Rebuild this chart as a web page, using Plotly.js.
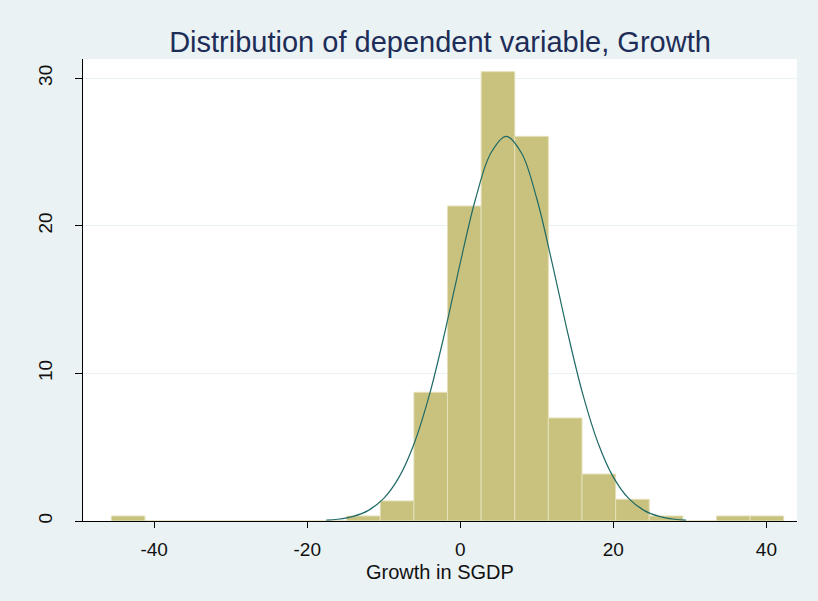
<!DOCTYPE html>
<html>
<head>
<meta charset="utf-8">
<script src="https://cdn.plot.ly/plotly-3.0.1.min.js"></script>
<style>html,body{margin:0;padding:0;background:#eaf2f3;}#chart{width:818px;height:601px;}</style>
</head>
<body>
<div id="chart"></div>
<script>
// Histogram bin edges (Growth in SGDP)
var binEdges = [-45.60, -41.21, -36.81, -32.42, -28.03, -23.63, -19.24, -14.85, -10.45, -6.06, -1.67, 2.73, 7.12, 11.51, 15.91, 20.30, 24.69, 29.09, 33.48, 37.87, 42.26];
// Percent of observations in each bin
var binPercent = [0.34, 0, 0, 0, 0, 0, 0, 0.34, 1.36, 8.72, 21.34, 30.44, 26.06, 6.98, 3.18, 1.47, 0.34, 0, 0.34, 0.34];
// Overlaid normal curve
var curveX = [-17.5, -16, -14, -12, -10, -8, -6, -4, -2, 0, 2, 4, 6, 8, 10, 12, 14, 16, 18, 20, 22, 24, 26, 28, 29.5];
var curveY = [0.06, 0.12, 0.31, 0.72, 1.53, 2.97, 5.29, 8.61, 12.83, 17.49, 21.83, 24.93, 26.06, 24.93, 21.83, 17.49, 12.83, 8.61, 5.29, 2.97, 1.53, 0.72, 0.31, 0.12, 0.06];
var xTicks = [-40, -20, 0, 20, 40];
var yTicks = [0, 10, 20, 30];

var centers = [], widths = [];
for (var i = 0; i < binPercent.length; i++) {
  centers.push((binEdges[i] + binEdges[i + 1]) / 2);
  widths.push(binEdges[i + 1] - binEdges[i]);
}

var bars = {
  type: 'bar', x: centers, y: binPercent, width: widths,
  marker: {color: '#c9c27f', line: {color: '#e4e0b8', width: 1}},
  hoverinfo: 'skip', showlegend: false
};
var curve = {
  type: 'scatter', mode: 'lines', x: curveX, y: curveY,
  line: {color: '#1f6a66', width: 1.2, shape: 'spline'},
  hoverinfo: 'skip', showlegend: false
};

var layout = {
  width: 818, height: 601,
  paper_bgcolor: '#eaf2f3', plot_bgcolor: '#ffffff',
  margin: {l: 83, r: 21, t: 59, b: 80},
  font: {family: 'Liberation Sans, Arial, sans-serif', color: '#111111'},
  title: {text: 'Distribution of dependent variable, Growth', x: 0.5, xref: 'paper', y: 1, yref: 'paper', yanchor: 'bottom', pad: {b: 7},
          font: {size: 29, color: '#1e2d58', family: 'Liberation Sans, Arial, sans-serif'}},
  bargap: 0,
  xaxis: {
    range: [-49.3, 44], tickvals: xTicks, ticktext: xTicks.map(String),
    showgrid: false, zeroline: false, showline: true, linecolor: '#000', linewidth: 1,
    ticks: 'outside', ticklen: 6, tickcolor: '#000', tickwidth: 1,
    ticklabelstandoff: 5,
    tickfont: {size: 19, color: '#111'}
  },
  yaxis: {
    range: [0, 31.3], tickvals: yTicks, ticktext: yTicks.map(String),
    showgrid: true, gridcolor: '#eaf2f3', gridwidth: 1,
    zeroline: false, showline: true, linecolor: '#000', linewidth: 1,
    ticks: 'outside', ticklen: 7, tickcolor: '#000', tickwidth: 1,
    tickangle: -90, ticklabelstandoff: 15,
    tickfont: {size: 19, color: '#111'}
  },
  annotations: [{
    text: 'Growth in SGDP', xref: 'paper', yref: 'paper', x: 0.5, y: 0,
    xanchor: 'center', yanchor: 'top', yshift: -38, showarrow: false,
    font: {size: 20, color: '#111'}
  }]
};

Plotly.newPlot('chart', [bars, curve], layout, {displayModeBar: false, staticPlot: true});
</script>
</body>
</html>
